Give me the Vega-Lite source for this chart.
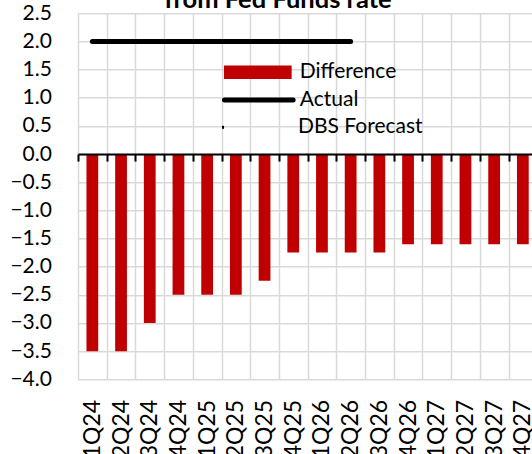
{
  "$schema": "https://vega.github.io/schema/vega-lite/v6.json",
  "autosize": {"type": "none"},
  "padding": {"left": 78, "top": 13.3, "right": 0, "bottom": 74.7},
  "width": 454,
  "height": 366,
  "title": {
    "text": "from Fed Funds rate",
    "font": "Lato",
    "fontSize": 25.5,
    "fontWeight": "bold",
    "color": "black",
    "anchor": "middle",
    "frame": "group",
    "dx": -27,
    "baseline": "alphabetic",
    "offset": -31.5
  },
  "config": {
    "view": {"stroke": null},
    "axis": {"labelFont": "Lato", "labelFontSize": 21, "labelColor": "black"},
    "axisY": {
      "title": null, "ticks": false, "domain": false, "grid": true,
      "gridColor": "#d9d9d9", "gridWidth": 1.5, "labelPadding": 26.6, "labelOverlap": false
    }
  },
  "data": {
    "values": [
      {"q": "1Q24", "diff": -3.5, "actual": 2, "forecast": null},
      {"q": "2Q24", "diff": -3.5, "actual": 2, "forecast": null},
      {"q": "3Q24", "diff": -3.0, "actual": 2, "forecast": null},
      {"q": "4Q24", "diff": -2.5, "actual": 2, "forecast": null},
      {"q": "1Q25", "diff": -2.5, "actual": 2, "forecast": null},
      {"q": "2Q25", "diff": -2.5, "actual": 2, "forecast": null},
      {"q": "3Q25", "diff": -2.25, "actual": 2, "forecast": null},
      {"q": "4Q25", "diff": -1.75, "actual": 2, "forecast": null},
      {"q": "1Q26", "diff": -1.75, "actual": 2, "forecast": null},
      {"q": "2Q26", "diff": -1.75, "actual": 2, "forecast": null},
      {"q": "3Q26", "diff": -1.75, "actual": null, "forecast": null},
      {"q": "4Q26", "diff": -1.6, "actual": null, "forecast": null},
      {"q": "1Q27", "diff": -1.6, "actual": null, "forecast": null},
      {"q": "2Q27", "diff": -1.6, "actual": null, "forecast": null},
      {"q": "3Q27", "diff": -1.6, "actual": null, "forecast": null},
      {"q": "4Q27", "diff": -1.6, "actual": null, "forecast": null}
    ]
  },
  "resolve": {"axis": {"x": "independent"}},
  "layer": [
    {
      "mark": {"type": "bar", "width": {"band": 0.41}},
      "encoding": {
        "x": {
          "field": "q", "type": "ordinal", "sort": null,
          "scale": {"range": [0, 459.2], "paddingInner": 0, "paddingOuter": 0},
          "axis": {
            "title": null, "labelAngle": -90, "ticks": false, "domain": false,
            "tickBand": "extent", "grid": true, "gridColor": "#d9d9d9", "gridWidth": 1.5,
            "labelPadding": 20, "labelFontSize": 23
          }
        },
        "y": {
          "field": "diff", "type": "quantitative",
          "scale": {"domain": [-4, 2.5], "nice": false, "zero": false},
          "axis": {"values": [-4, -3.5, -3, -2.5, -2, -1.5, -1, -0.5, 0, 0.5, 1, 1.5, 2, 2.5], "format": ".1f"}
        },
        "fill": {
          "datum": "Difference",
          "scale": {"domain": ["Difference"], "range": ["#C00000"]},
          "legend": {
            "orient": "none", "legendX": 145.8, "legendY": 25, "title": null, "padding": 0,
            "symbolType": "M-1,-0.2H1V0.2H-1Z", "symbolSize": 4583, "symbolStrokeWidth": 0,
            "labelFont": "Lato", "labelFontSize": 21, "labelColor": "black", "labelOffset": 8
          }
        }
      }
    },
    {
      "mark": {"type": "line", "strokeWidth": 5, "strokeCap": "round", "color": "black"},
      "encoding": {
        "x": {
          "field": "q", "type": "ordinal", "sort": null,
          "axis": {
            "title": null, "orient": "bottom", "offset": -225.2, "labels": false, "grid": false,
            "ticks": true, "tickBand": "extent", "tickSize": 7, "tickWidth": 2, "tickColor": "black",
            "domain": true, "domainColor": "black", "domainWidth": 2, "zindex": 1
          }
        },
        "y": {
          "field": "actual", "type": "quantitative",
          "axis": {"values": [-4, -3.5, -3, -2.5, -2, -1.5, -1, -0.5, 0, 0.5, 1, 1.5, 2, 2.5], "format": ".1f"}
        },
        "stroke": {
          "datum": "Actual",
          "scale": {"domain": ["Actual"], "range": ["black"]},
          "legend": {
            "orient": "none", "legendX": 143.8, "legendY": 49.7, "title": null, "padding": 0,
            "symbolType": "M-1,0H1", "symbolSize": 4720, "symbolStrokeWidth": 5,
            "labelFont": "Lato", "labelFontSize": 21, "labelColor": "black", "labelOffset": 4,
            "encode": {"symbols": {"update": {"strokeCap": {"value": "round"}}}}
          }
        }
      }
    },
    {
      "mark": {"type": "line", "strokeWidth": 3, "color": "black"},
      "encoding": {
        "x": {"field": "q", "type": "ordinal", "sort": null, "axis": null},
        "y": {
          "field": "forecast", "type": "quantitative",
          "axis": {"values": [-4, -3.5, -3, -2.5, -2, -1.5, -1, -0.5, 0, 0.5, 1, 1.5, 2, 2.5], "format": ".1f"}
        },
        "strokeDash": {
          "datum": "DBS Forecast",
          "scale": {"domain": ["DBS Forecast"], "range": [[2, 1000]]},
          "legend": {
            "orient": "none", "legendX": 142.4, "legendY": 78, "title": null, "padding": 0,
            "symbolType": "M-1,0H1", "symbolSize": 4720, "symbolStrokeWidth": 3,
            "symbolStrokeColor": "black",
            "labelFont": "Lato", "labelFontSize": 21, "labelColor": "black", "labelOffset": 5.6
          }
        }
      }
    }
  ]
}
